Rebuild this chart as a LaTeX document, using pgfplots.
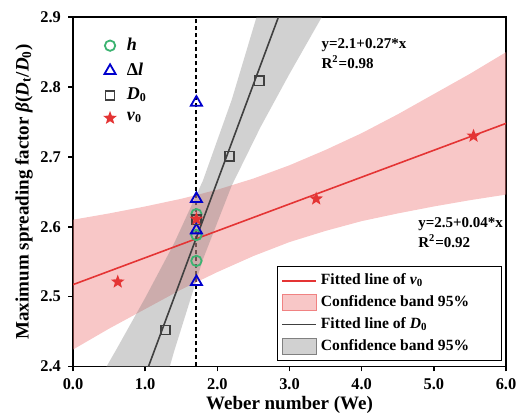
\documentclass[border=0pt]{standalone}
\usepackage{fontspec}
\setmainfont{Liberation Serif}
\usepackage{pgfplots}
\pgfplotsset{compat=1.18}

\definecolor{cgreen}{RGB}{60,179,113}
\definecolor{cblue}{RGB}{0,0,205}
\definecolor{cgrey}{RGB}{64,64,64}
\definecolor{cred}{RGB}{228,52,52}
\definecolor{bandred}{RGB}{240,130,130}
\definecolor{bandgrey}{RGB}{128,128,128}

\pgfdeclareplotmark{fstar}{%
  \pgfpathmoveto{\pgfpointpolar{90}{\pgfplotmarksize}}%
  \pgfpathlineto{\pgfpointpolar{126}{0.42*\pgfplotmarksize}}%
  \pgfpathlineto{\pgfpointpolar{162}{\pgfplotmarksize}}%
  \pgfpathlineto{\pgfpointpolar{198}{0.42*\pgfplotmarksize}}%
  \pgfpathlineto{\pgfpointpolar{234}{\pgfplotmarksize}}%
  \pgfpathlineto{\pgfpointpolar{270}{0.42*\pgfplotmarksize}}%
  \pgfpathlineto{\pgfpointpolar{306}{\pgfplotmarksize}}%
  \pgfpathlineto{\pgfpointpolar{342}{0.42*\pgfplotmarksize}}%
  \pgfpathlineto{\pgfpointpolar{18}{\pgfplotmarksize}}%
  \pgfpathlineto{\pgfpointpolar{54}{0.42*\pgfplotmarksize}}%
  \pgfpathclose
  \pgfusepathqfill
}

\pgfplotsset{
  common/.style={
    scale only axis, width=216.5pt, height=174.5pt,
    xmin=0, xmax=6, ymin=2.4, ymax=2.9,
  }
}

\begin{document}
\begin{tikzpicture}
\begin{axis}[
  common,
  xtick={0,1,2,3,4,5,6},
  ytick={2.4,2.5,2.6,2.7,2.8,2.9},
  xtick pos=bottom, ytick pos=left,
  tick align=outside, major tick length=2.5pt,
  axis line style={line width=0.8pt},
  every tick/.style={black, line width=0.8pt},
  xticklabel style={/pgf/number format/.cd, fixed, fixed zerofill, precision=1, assume math mode=true},
  yticklabel style={/pgf/number format/.cd, fixed, fixed zerofill, precision=1, assume math mode=true},
  tick label style={font=\fontsize{8.2}{9}\selectfont\bfseries},
  xlabel={Weber number (We)},
  ylabel={Maximum spreading factor \textit{β}(\textit{D}\textsubscript{t}/\textit{D}\textsubscript{0})},
  label style={font=\fontsize{9.5}{11}\selectfont\bfseries},
  xlabel style={yshift=3.5pt},
  ylabel style={yshift=-3pt},
  legend style={at={(0.055,0.965)}, anchor=north west, draw=none, fill=none,
    font=\fontsize{9}{10}\selectfont\bfseries, row sep=0.8pt,
    cells={anchor=west},
    /tikz/every odd column/.append style={column sep=3pt}},
  legend cell align=left,
]
\coordinate (ll) at (rel axis cs:0,0);
\coordinate (ur) at (rel axis cs:1,1);
% legend entries (markers)
\addlegendimage{only marks, mark=o, mark size=2.6pt, cgreen, line width=0.9pt}
\addlegendentry{\textit{h}}
\addlegendimage{only marks, mark=triangle, mark size=3.2pt, cblue, line width=0.9pt}
\addlegendentry{Δ\textit{l}}
\addlegendimage{only marks, mark=square, mark size=2.3pt, cgrey, line width=0.8pt}
\addlegendentry{\textit{D}\textsubscript{0}}
\addlegendimage{only marks, mark=fstar, mark size=3.6pt, cred}
\addlegendentry{\textit{v}\textsubscript{0}}

% dashed vertical line at We = 1.71
\addplot[black, line width=1pt, dash pattern=on 2pt off 1.5pt, forget plot]
  coordinates {(1.71,2.4) (1.71,2.9)};

% h (circles)
\addplot[only marks, mark=o, mark size=2.6pt, cgreen, line width=0.9pt, forget plot]
  coordinates {(1.71,2.618) (1.71,2.588) (1.71,2.551)};
% Delta l (triangles)
\addplot[only marks, mark=triangle, mark size=3.2pt, cblue, line width=0.9pt, forget plot]
  coordinates {(1.71,2.778) (1.71,2.640) (1.71,2.595) (1.71,2.521)};
% D0 point on the dashed line
\addplot[only marks, mark=square, mark size=2.3pt, cgrey, line width=0.8pt, forget plot]
  coordinates {(1.71,2.610)};
% v0 point on the dashed line
\addplot[only marks, mark=fstar, mark size=3.6pt, cred, forget plot]
  coordinates {(1.71,2.611)};

% confidence band of v0
\addplot[fill=bandred, fill opacity=0.45, draw=none, forget plot] coordinates {
  (0,2.610) (0.5,2.619) (1,2.629) (1.5,2.640) (2,2.653) (2.5,2.669) (3,2.688)
  (3.5,2.710) (4,2.734) (4.5,2.761) (5,2.790) (5.5,2.819) (6,2.850)
  (6,2.646) (5.5,2.638) (5,2.629) (4.5,2.619) (4,2.608) (3.5,2.594) (3,2.578)
  (2.5,2.558) (2,2.535) (1.5,2.510) (1,2.482) (0.5,2.454) (0,2.424)} -- cycle;

% confidence band of D0
\addplot[fill=bandgrey, fill opacity=0.36, draw=none, forget plot] coordinates {
  (0.2,2.352) (0.6,2.424) (1.0,2.498) (1.4,2.576) (1.8,2.666) (2.2,2.782)
  (2.6,2.920) (3.0,3.067) (3.6,3.292)
  (4.0,2.999) (3.6,2.928) (3.0,2.819) (2.6,2.743) (2.2,2.659) (1.8,2.553)
  (1.4,2.421) (1.0,2.276) (0.6,2.127) (0.2,1.977)} -- cycle;

% fitted lines
\addplot[cred, line width=0.8pt, forget plot] coordinates {(0,2.517) (6,2.748)};
\addplot[cgrey, line width=0.8pt, forget plot] coordinates {(1.0,2.387) (3.0,2.943)};

% D0 points
\addplot[only marks, mark=square, mark size=2.3pt, cgrey, line width=0.8pt, forget plot]
  coordinates {(1.28,2.452) (2.17,2.701) (2.58,2.809)};
% v0 points
\addplot[only marks, mark=fstar, mark size=3.6pt, cred, forget plot]
  coordinates {(0.62,2.521) (3.37,2.640) (5.55,2.730)};

% equations
\node[anchor=west, font=\fontsize{7.5}{8}\selectfont\bfseries, align=left, inner sep=0pt]
  at (axis cs:3.44,2.848) {y=2.1+0.27*x\\[1pt]R\textsuperscript{2}=0.98};
\node[anchor=west, font=\fontsize{7.5}{8}\selectfont\bfseries, align=left, inner sep=0pt]
  at (axis cs:4.78,2.592) {y=2.5+0.04*x\\[1pt]R\textsuperscript{2}=0.92};
\end{axis}

\begin{axis}[
  common, hide axis,
  legend style={at={(0.99,0.015)}, anchor=south east, draw=black, line width=0.5pt,
    fill=white, fill opacity=0, text opacity=1, draw opacity=1,
    font=\fontsize{7.8}{9}\selectfont\bfseries, row sep=0pt,
    inner xsep=2pt, inner ysep=1.5pt, cells={anchor=west}},
  legend cell align=left,
]
\addlegendimage{legend image code/.code={\draw[cred, line width=0.9pt] (0pt,0pt) -- (17pt,0pt);}}
\addlegendentry{Fitted line of \textit{v}\textsubscript{0}}
\addlegendimage{legend image code/.code={\fill[bandred, fill opacity=0.45] (0pt,-4pt) rectangle (17pt,4pt);}}
\addlegendentry{Confidence band 95\%\rule{12pt}{0pt}}
\addlegendimage{legend image code/.code={\draw[cgrey, line width=0.9pt] (0pt,0pt) -- (17pt,0pt);}}
\addlegendentry{Fitted line of \textit{D}\textsubscript{0}}
\addlegendimage{legend image code/.code={\fill[bandgrey, fill opacity=0.36] (0pt,-4pt) rectangle (17pt,4pt);}}
\addlegendentry{Confidence band 95\%}
\end{axis}
\pgfresetboundingbox
\path[use as bounding box] ([xshift=-36.5pt,yshift=-26.35pt]ll) rectangle ([xshift=5.5pt,yshift=8.65pt]ur);
\end{tikzpicture}
\end{document}
